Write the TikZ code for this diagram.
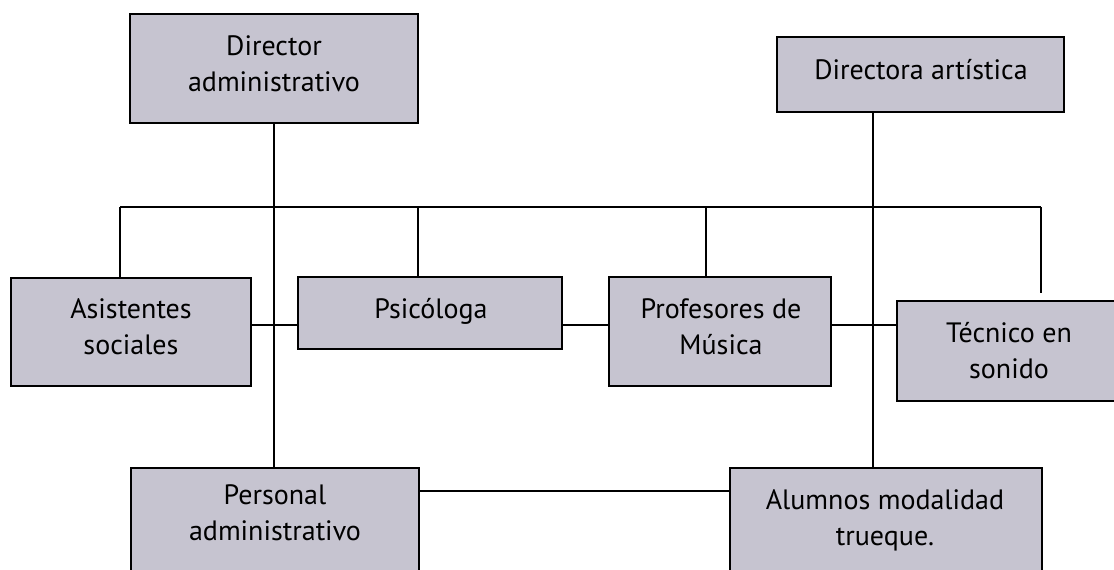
\documentclass[tikz,border=0pt]{standalone}
\usepackage{fontspec}
\setmainfont{PT Sans}
\definecolor{boxfill}{RGB}{198,196,208}
\begin{document}
\begin{tikzpicture}[x=1pt,y=-1pt,
  box/.style={draw=black, line width=1.3pt, fill=boxfill, rectangle, inner sep=0pt},
  lbl/.style={align=center, font=\fontsize{28}{36}\selectfont, inner sep=0pt},
  conn/.style={line width=1.2pt}]
\path[use as bounding box] (0,0) rectangle (1114,570);
\clip (0,0) rectangle (1114,570);
% coordinates for connector routing
\coordinate (bl) at (120,207);
\coordinate (br) at (1041,207);
\coordinate (bp) at (418,207);
\coordinate (bm) at (706,207);
\coordinate (tt) at (1041,293);
\coordinate (va) at (873,0);
\coordinate (hm) at (0,325);
\coordinate (hb) at (0,491);
\coordinate (k1) at (538,207);
\coordinate (k2) at (599,207);
% boxes
\node[box, minimum width=288, minimum height=109] (dirad) at (274,68.5) {};
\node[box, minimum width=287, minimum height=75] (dirar) at (920.5,74.5) {};
\node[box, minimum width=240, minimum height=108] (asis) at (131,332) {};
\node[box, minimum width=264, minimum height=72] (psic) at (430,313) {};
\node[box, minimum width=222, minimum height=109] (prof) at (720,331.5) {};
\node[box, minimum width=233, minimum height=100] (tec) at (1013.5,351) {};
\node[box, minimum width=288, minimum height=132] (pers) at (275,534) {};
\node[box, minimum width=312, minimum height=132] (alum) at (886,534) {};
% connectors
\draw[conn] (bl) -- (br);
\draw[line width=2.6pt] (k1) -- (k2);
\draw[conn] (bl) -- (bl |- asis.north);
\draw[conn] (bp) -- (bp |- psic.north);
\draw[conn] (bm) -- (bm |- prof.north);
\draw[conn] (br) -- (tt);
\draw[conn] (dirad.south) -- (dirad.south |- pers.north);
\draw[conn] (va |- dirar.south) -- (va |- alum.north);
\draw[conn] (asis.east |- hm) -- (psic.west |- hm);
\draw[conn] (psic.east |- hm) -- (prof.west |- hm);
\draw[conn] (prof.east |- hm) -- (tec.west |- hm);
\draw[conn] (pers.east |- hb) -- (alum.west |- hb);
% labels
\node[lbl] (dirad-t) at (274,64) {Director\\administrativo};
\node[lbl] (dirar-t) at (921,70) {Directora artística};
\node[lbl] (asis-t) at (131,327) {Asistentes\\sociales};
\node[lbl] (psic-t) at (431,311) {Psicóloga};
\node[lbl] (prof-t) at (721,327) {Profesores de\\Música};
\node[lbl] (tec-t) at (1009,351) {Técnico en\\sonido};
\node[lbl] (pers-t) at (275,513) {Personal\\administrativo};
\node[lbl] (alum-t) at (885,520) {Alumnos modalidad\\trueque.};
\end{tikzpicture}
\end{document}
